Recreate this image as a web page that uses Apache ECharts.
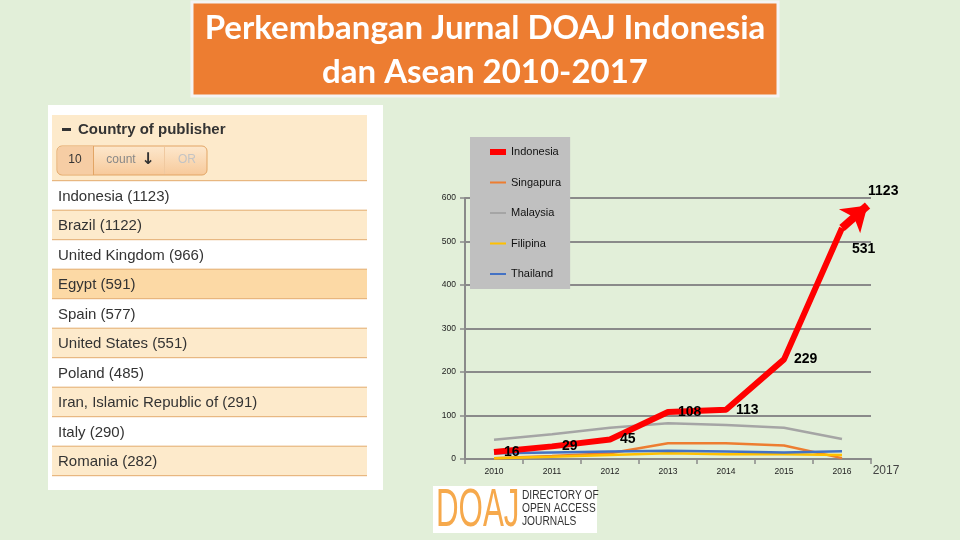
<!DOCTYPE html>
<html><head><meta charset="utf-8">
<script src="https://cdn.jsdelivr.net/npm/echarts@6/dist/echarts.min.js"></script>
<style>html,body{margin:0;padding:0;background:#e2efd9;}#c{width:960px;height:540px;}</style>
</head><body><div id="c"></div>
<script>
// ---- data ----
const years = ['2010', '2011', '2012', '2013', '2014', '2015', '2016'];
const yearNums = [2010, 2011, 2012, 2013, 2014, 2015, 2016];
const indonesia = [16, 29, 45, 108, 113, 229, 531];
const singapura = [2, 7, 13, 36, 36, 31, 2];
const malaysia = [44, 57, 72, 82, 78, 72, 46];
const filipina = [2, 5, 9, 13, 11, 11, 9];
const thailand = [13, 15, 17, 19, 17, 15, 18];
const indonesia2017 = 1123;
const arrowTip = [2016.44, 583];
const nextYearLabel = '2017';
const seriesNames = ['Indonesia', 'Singapura', 'Malaysia', 'Filipina', 'Thailand'];
const countries = ['Indonesia', 'Brazil', 'United Kingdom', 'Egypt', 'Spain', 'United States', 'Poland', 'Iran, Islamic Republic of', 'Italy', 'Romania'];
const countryCounts = [1123, 1122, 966, 591, 577, 551, 485, 291, 290, 282];
const titleLines = ['Perkembangan Jurnal DOAJ Indonesia', 'dan Asean 2010-2017'];

// ---- chart ----
const chart = echarts.init(document.getElementById('c'));
const FONT = "'Liberation Sans', Arial, sans-serif";
const gridGray = '#8a8a8a';

function pts(arr) { return arr.map((v, i) => [yearNums[i], v]); }

const indoData = indonesia.map((v, i) => {
  const item = { value: [yearNums[i], v] };
  if (i === indonesia.length - 1) item.label = { offset: [0, 21] };
  return item;
});

const graphics = [];
// title box
graphics.push({ type: 'rect', shape: { x: 192, y: 2, width: 586, height: 94 }, style: { fill: '#ED7D31', stroke: '#f4f4f4', lineWidth: 3 } });
titleLines.forEach((t, i) => graphics.push({ type: 'text', x: 485, y: 28 + i * 44, style: { text: t, fill: '#fff', font: "bold 33px Lato, 'Open Sans', sans-serif", align: 'center', verticalAlign: 'middle' } }));
// left panel
graphics.push({ type: 'rect', shape: { x: 48, y: 105, width: 335, height: 385 }, style: { fill: '#ffffff' } });
graphics.push({ type: 'rect', shape: { x: 52, y: 115, width: 315, height: 66 }, style: { fill: '#fdeacb' } });
graphics.push({ type: 'rect', shape: { x: 62, y: 128, width: 9, height: 3 }, style: { fill: '#333' } });
graphics.push({ type: 'text', x: 78, y: 130, style: { text: 'Country of publisher', fill: '#333', font: 'bold 15px ' + FONT, verticalAlign: 'middle' } });
graphics.push({ type: 'rect', shape: { x: 57, y: 146, width: 150, height: 29, r: 5 }, style: { fill: new echarts.graphic.LinearGradient(0, 0, 0, 1, [{ offset: 0, color: '#fde8cd' }, { offset: 1, color: '#f7c99a' }]), stroke: '#e2a565', lineWidth: 1 } });
graphics.push({ type: 'rect', shape: { x: 57.5, y: 146.5, width: 36, height: 28, r: [5, 0, 0, 5] }, style: { fill: '#f6cda4' } });
graphics.push({ type: 'line', shape: { x1: 93.5, y1: 146, x2: 93.5, y2: 175 }, style: { stroke: '#e2a565', lineWidth: 1 } });
graphics.push({ type: 'line', shape: { x1: 164.5, y1: 147, x2: 164.5, y2: 174 }, style: { stroke: '#f0c9a0', lineWidth: 1 } });
graphics.push({ type: 'text', x: 75, y: 160, style: { text: '10', fill: '#333', font: '12px ' + FONT, align: 'center', verticalAlign: 'middle' } });
graphics.push({ type: 'text', x: 121, y: 160, style: { text: 'count', fill: '#888', font: '12px ' + FONT, align: 'center', verticalAlign: 'middle' } });
graphics.push({ type: 'text', x: 148, y: 160, style: { text: '↓', fill: '#333', font: "bold 16px 'DejaVu Sans', sans-serif", align: 'center', verticalAlign: 'middle' } });
graphics.push({ type: 'text', x: 187, y: 160, style: { text: 'OR', fill: '#c4c4c4', font: '12px ' + FONT, align: 'center', verticalAlign: 'middle' } });
const rowTop = 180.7, rowH = 29.5;
countries.forEach((c, i) => {
  const y = rowTop + rowH * i;
  const fill = i === 3 ? '#fcd9a5' : (i % 2 === 1 ? '#fdeacb' : '#ffffff');
  graphics.push({ type: 'rect', shape: { x: 52, y: y, width: 315, height: rowH }, style: { fill: fill } });
  graphics.push({ type: 'line', shape: { x1: 52, y1: y, x2: 367, y2: y }, style: { stroke: '#e3ab6c', lineWidth: 1 } });
  graphics.push({ type: 'text', x: 58, y: y + rowH / 2 + 1, style: { text: c + ' (' + countryCounts[i] + ')', fill: '#333', font: '15px ' + FONT, verticalAlign: 'middle' } });
});
graphics.push({ type: 'line', shape: { x1: 52, y1: rowTop + rowH * countries.length, x2: 367, y2: rowTop + rowH * countries.length }, style: { stroke: '#e3ab6c', lineWidth: 1 } });
// 2017 label
graphics.push({ type: 'text', x: 886, y: 471, style: { text: nextYearLabel, fill: '#444', font: '12px ' + FONT, align: 'center', verticalAlign: 'middle' } });
// DOAJ logo
graphics.push({ type: 'rect', shape: { x: 433, y: 486, width: 164, height: 47 }, style: { fill: '#ffffff' } });
graphics.push({ type: 'text', x: 436, y: 511, scaleX: 0.58, originX: 0, style: { text: 'DOAJ', fill: '#f6a94c', font: "54px 'Liberation Sans', sans-serif", verticalAlign: 'middle' } });
['DIRECTORY OF', 'OPEN ACCESS', 'JOURNALS'].forEach((t, i) => graphics.push({ type: 'text', x: 522, y: 496 + i * 13, scaleX: 0.85, originX: 0, style: { text: t, fill: '#333', font: "12px 'Liberation Sans', sans-serif", verticalAlign: 'middle' } }));

const lineCommon = { type: 'line', xAxisIndex: 1, symbol: 'circle', symbolSize: 0, showSymbol: true, smooth: false, silent: true };

chart.setOption({
  animation: false,
  backgroundColor: '#e2efd9',
  grid: { left: 465, right: 89, top: 198, bottom: 81 },
  legend: {
    data: seriesNames.map((n, i) => ({ name: n, lineStyle: { width: i === 0 ? 6 : 2 } })),
    orient: 'vertical', left: 470, top: 137,
    backgroundColor: '#c0c0c0', padding: [9.5, 9, 9.5, 17], itemGap: 19.5,
    itemWidth: 16, itemHeight: 11, itemStyle: { opacity: 0 },
    textStyle: { fontSize: 11, color: '#111', fontFamily: FONT }
  },
  xAxis: [
    {
      type: 'category', data: years, boundaryGap: true,
      axisLine: { lineStyle: { color: gridGray, width: 2 } },
      axisTick: { show: true, length: 5, alignWithLabel: false, lineStyle: { color: gridGray, width: 1.5 } },
      axisLabel: { fontSize: 8.5, color: '#222', margin: 8, fontFamily: FONT },
      splitLine: { show: false }
    },
    { type: 'value', min: 2009.5, max: 2016.5, show: false }
  ],
  yAxis: {
    type: 'value', min: 0, max: 600, interval: 100,
    axisLine: { show: true, lineStyle: { color: gridGray, width: 2 } },
    axisTick: { show: true, length: 5, lineStyle: { color: gridGray, width: 1.5 } },
    axisLabel: { fontSize: 8.5, color: '#222', margin: 9, fontFamily: FONT },
    splitLine: { lineStyle: { color: gridGray, width: 2 } }
  },
  series: [
    Object.assign({}, lineCommon, { name: 'Singapura', data: pts(singapura), color: '#ED7D31', lineStyle: { width: 2.5 } }),
    Object.assign({}, lineCommon, { name: 'Malaysia', data: pts(malaysia), color: '#A5A5A5', lineStyle: { width: 2.5 } }),
    Object.assign({}, lineCommon, { name: 'Filipina', data: pts(filipina), color: '#FFC000', lineStyle: { width: 2.5 } }),
    Object.assign({}, lineCommon, { name: 'Thailand', data: pts(thailand), color: '#4472C4', lineStyle: { width: 2.5 } }),
    Object.assign({}, lineCommon, {
      name: 'Indonesia', data: indoData, color: '#FF0000', z: 4, lineStyle: { width: 6 },
      label: { show: true, position: 'right', distance: 10, formatter: p => p.value[1], fontWeight: 'bold', fontSize: 14, color: '#000', fontFamily: FONT },
      markLine: {
        silent: true, symbol: ['none', 'arrow'], symbolSize: 24,
        itemStyle: { color: '#FF0000' },
        lineStyle: { color: '#FF0000', width: 8, type: 'solid' },
        label: { show: true, position: 'end', formatter: String(indonesia2017), fontWeight: 'bold', fontSize: 14, color: '#000', fontFamily: FONT, distance: 21 },
        data: [[{ coord: [yearNums[yearNums.length - 1], indonesia[indonesia.length - 1]] }, { coord: arrowTip }]]
      }
    })
  ],
  graphic: graphics
});
</script></body></html>
